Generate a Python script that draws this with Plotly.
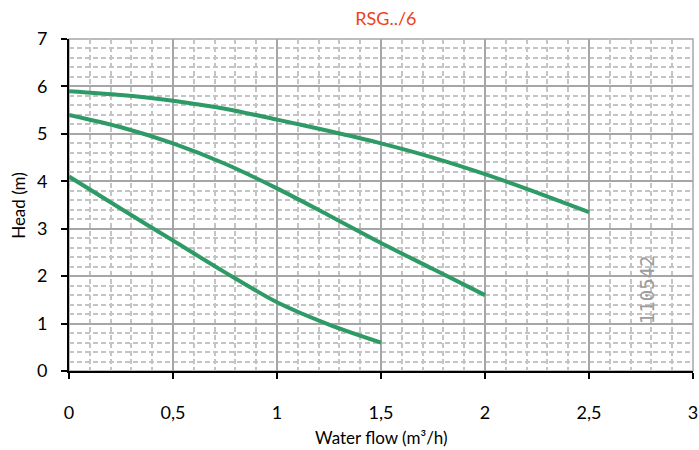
import plotly.graph_objects as go

# pump curves RSG../6, flow (m3/h) vs head (m)
flow_high = [0, 0.25, 0.5, 0.75, 1, 1.25, 1.5, 1.75, 2, 2.25, 2.5]
head_high = [5.9, 5.82, 5.7, 5.53, 5.3, 5.06, 4.8, 4.5, 4.15, 3.76, 3.35]

flow_mid = [0, 0.25, 0.5, 0.75, 1, 1.25, 1.5, 1.75, 2]
head_mid = [5.4, 5.14, 4.8, 4.37, 3.85, 3.28, 2.7, 2.15, 1.6]

flow_low = [0, 0.25, 0.5, 0.75, 1, 1.25, 1.5]
head_low = [4.1, 3.42, 2.75, 2.08, 1.45, 0.98, 0.6]

x_ticks = [0, 0.5, 1, 1.5, 2, 2.5, 3]
x_labels = ["0", "0,5", "1", "1,5", "2", "2,5", "3"]
y_ticks = [0, 1, 2, 3, 4, 5, 6, 7]

green = "#2e9a65"
font = "Lato, Open Sans, sans-serif"

fig = go.Figure()
for xs, ys in [(flow_high, head_high), (flow_mid, head_mid), (flow_low, head_low)]:
    fig.add_trace(go.Scatter(
        x=xs, y=ys, mode="lines",
        line=dict(color=green, width=4, shape="spline", smoothing=0.8),
        showlegend=False
    ))

fig.add_annotation(
    x=2.78, y=1.71, xref="x", yref="y",
    text="110542", textangle=-90, showarrow=False,
    font=dict(family="DejaVu Sans Mono", size=19, color="#9c9c9c")
)

# axis titles placed by hand
fig.add_annotation(x=0.5, y=-0.2, xref="paper", yref="paper", yanchor="middle",
                   text="Water flow (m³/h)", showarrow=False, font=dict(size=17))
fig.add_annotation(x=-0.082, y=0.5, xref="paper", yref="paper", xanchor="center",
                   text="Head (m)", textangle=-90, showarrow=False, font=dict(size=17))

fig.add_shape(type="rect", xref="paper", yref="paper", x0=0, y0=0, x1=1, y1=1,
              line=dict(color="#a6a6a6", width=1.5), layer="below")

fig.update_layout(
    width=699, height=450,
    margin=dict(l=69, r=6, t=39, b=79, autoexpand=False),
    paper_bgcolor="white", plot_bgcolor="white",
    separators=", ",
    font=dict(family=font, size=18, color="black"),
    title=dict(text="RSG../6", x=0.552, xanchor="center", y=0.958, yanchor="middle",
               font=dict(family=font, size=18, color="#f04020")),
    xaxis=dict(
        range=[0, 3], tickvals=x_ticks, ticktext=x_labels,
        showline=True, linecolor="black", linewidth=2,
        ticks="outside", ticklen=6, tickcolor="black", tickwidth=1.5,
        ticklabelstandoff=18, automargin=False,
        showgrid=True, gridcolor="#a6a6a6", gridwidth=1.5,
        minor=dict(dtick=0.1, showgrid=True, gridcolor="#c4c4c4", griddash="5px,3px", gridwidth=1.5),
        zeroline=False,
    ),
    yaxis=dict(
        range=[0, 7], tickvals=y_ticks,
        showline=True, linecolor="black", linewidth=2,
        ticks="outside", ticklen=6, tickcolor="black", tickwidth=1.5,
        ticklabelstandoff=10, automargin=False,
        showgrid=True, gridcolor="#a6a6a6", gridwidth=1.5,
        minor=dict(dtick=0.2, showgrid=True, gridcolor="#c4c4c4", griddash="5px,3px", gridwidth=1.5),
        zeroline=False,
    ),
)

# drop the default body margin so the figure sits at the page corner
fig.write_html("out.html", config={"displayModeBar": False},
               post_script="document.body.style.margin='0';")
